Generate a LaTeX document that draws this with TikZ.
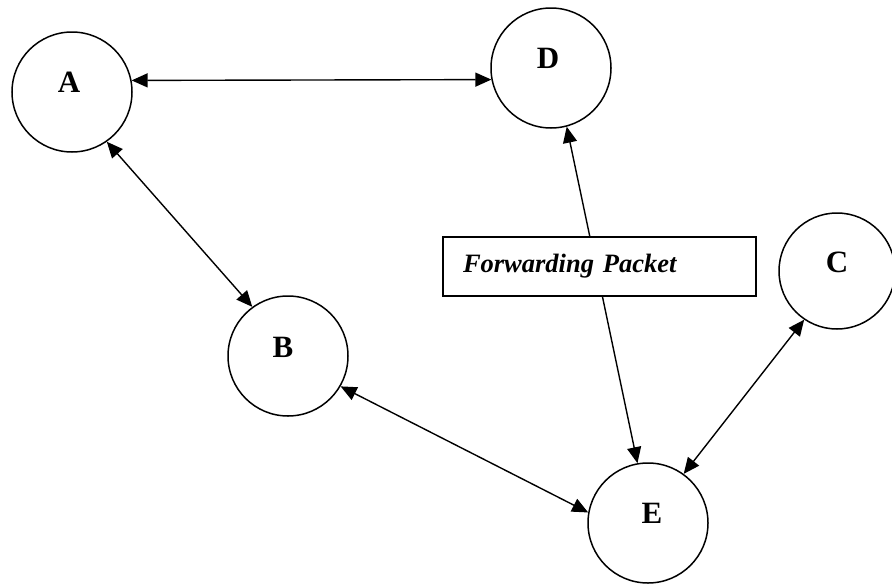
\documentclass[tikz,border=0pt]{standalone}
\usepackage{fontspec}
\setmainfont{Liberation Serif}
\usetikzlibrary{arrows.meta}
\begin{document}
\begin{tikzpicture}[x=1pt,y=-1pt,
  peer/.style={circle,draw,line width=1.5pt,minimum size=120pt,inner sep=0pt},
  lbl/.style={font=\fontsize{31}{31}\selectfont\bfseries},
  conn/.style={line width=1.4pt,{Triangle[length=16pt,width=14pt]}-{Triangle[length=16pt,width=14pt]}},
  tagbox/.style={draw,fill=white,line width=1.4pt,minimum width=313pt,minimum height=59pt,
    text width=273pt,inner xsep=20pt,align=left,font=\fontsize{26.5}{28}\selectfont\bfseries\itshape}]
\useasboundingbox (0,0) rectangle (892,584);
\node[peer,label={[lbl,yshift=10pt,xshift=-3pt]center:A}] (A) at (72,92) {};
\node[peer,label={[lbl,yshift=10pt,xshift=-3pt]center:D}] (D) at (551,68) {};
\node[peer,label={[lbl,yshift=9pt,xshift=-5pt]center:B}] (B) at (288,356) {};
\node[peer,minimum size=116pt,label={[lbl,yshift=9pt]center:C}] (C) at (837,271) {};
\node[peer,label={[lbl,yshift=10pt,xshift=4pt]center:E}] (E) at (648,523) {};
\draw[conn] (A.11.5) -- (D.191.5);
\draw[conn] (A.-55) -- (B.126);
\draw[conn] (B.-30.5) -- (E.170.5);
\draw[conn] (C.236) -- (E.54);
\draw[conn] (D.-75) -- (E.100);
\node[tagbox] (F) at (599.5,266.5) {Forwarding Packet};
\end{tikzpicture}
\end{document}
